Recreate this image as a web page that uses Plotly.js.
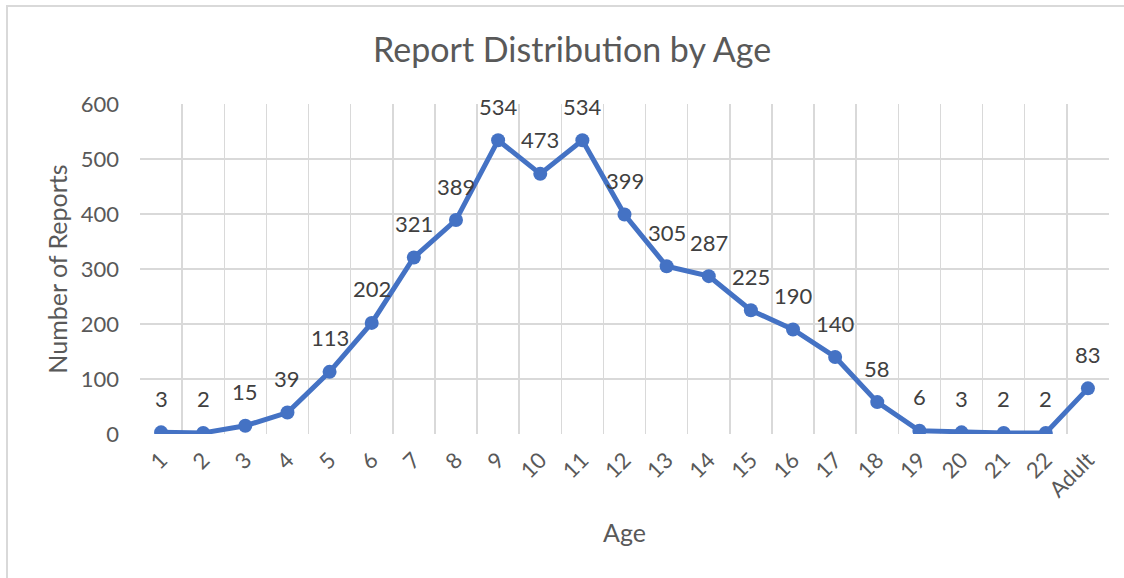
<!DOCTYPE html>
<html><head><meta charset="utf-8">
<script src="https://cdn.plot.ly/plotly-3.0.1.min.js"></script>
<style>
html,body{margin:0;padding:0;background:#fff;overflow:hidden;}
#frame{position:absolute;left:6px;top:5px;width:1130px;height:590px;border:2px solid #d9d9d9;box-sizing:border-box;pointer-events:none;z-index:5;}
#chart{position:absolute;left:0;top:0;width:1124px;height:578px;}
</style></head>
<body>
<div id="chart"></div><div id="frame"></div>
<script>
const ages = ["1","2","3","4","5","6","7","8","9","10","11","12","13","14","15","16","17","18","19","20","21","22","Adult"];
const reports = [3,2,15,39,113,202,321,389,534,473,534,399,305,287,225,190,140,58,6,3,2,2,83];
const yTicks = [0,100,200,300,400,500,600];

const font = "Lato, 'Open Sans', sans-serif";
const grey = "#595959";

const trace = {
  x: ages, y: reports, type: "scatter", mode: "lines+markers",
  line: {color: "#4472C4", width: 5},
  marker: {color: "#4472C4", size: 14},
  hoverinfo: "skip"
};

const annotations = ages.map((a, i) => ({
  x: i, y: reports[i], xref: "x", yref: "y",
  text: String(reports[i]), showarrow: false,
  yanchor: "middle", yshift: 34,
  font: {family: font, size: 22, color: "#404040"}
}));

const layout = {
  width: 1124, height: 578,
  paper_bgcolor: "rgba(0,0,0,0)", plot_bgcolor: "#fff",
  margin: {l: 140, r: 15, t: 104, b: 144},
  showlegend: false,
  title: {text: "Report Distribution by Age", x: 0.509, xanchor: "center", y: 0.913, yanchor: "middle",
          font: {family: font, size: 34, color: grey}},
  xaxis: {
    type: "category", range: [-0.5, 22.5], tickson: "boundaries",
    showgrid: true, gridcolor: "#d9d9d9", gridwidth: 1.5,
    showline: false, zeroline: false, ticks: "",
    tickangle: -45, tickfont: {family: font, size: 22, color: grey}, ticklabelstandoff: 8,
    title: {text: "Age", font: {family: font, size: 25, color: grey}, standoff: 23},
    automargin: false, fixedrange: true
  },
  yaxis: {
    range: [0, 600], tickvals: yTicks, ticktext: yTicks.map(String),
    showgrid: true, gridcolor: "#d9d9d9", gridwidth: 1.5,
    zeroline: false, showline: false, ticks: "",
    tickfont: {family: font, size: 22, color: grey}, ticklabelstandoff: 20,
    title: {text: "Number of Reports", font: {family: font, size: 25, color: grey}, standoff: 5},
    automargin: false, fixedrange: true
  },
  annotations: annotations
};

Plotly.newPlot("chart", [trace], layout, {displayModeBar: false, staticPlot: true});
</script>
</body></html>
